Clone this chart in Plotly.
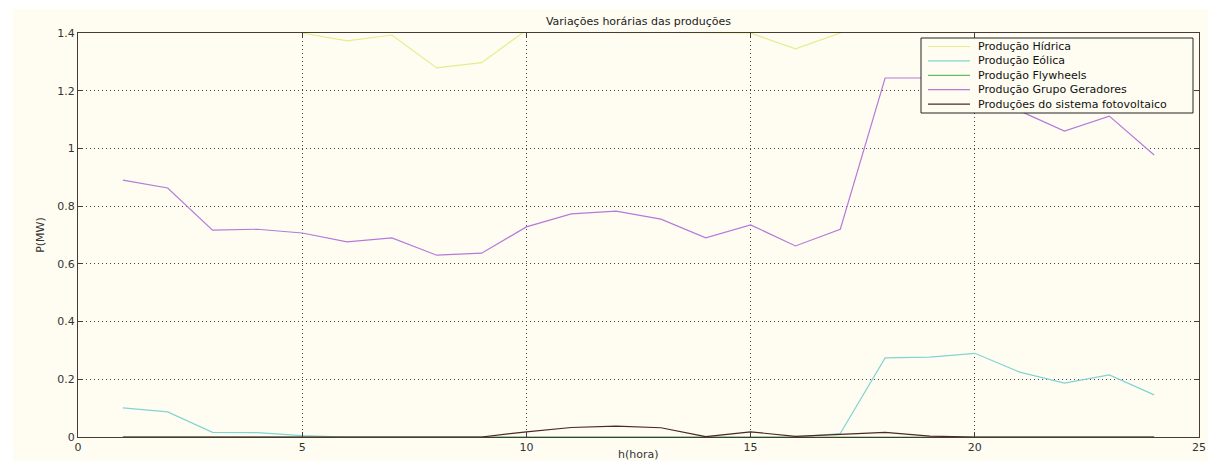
import plotly.graph_objects as go

# Hourly production by source (MW), hours 1..24
hours = list(range(1, 25))
hidrica = [1.62, 1.66, 1.58, 1.47, 1.40, 1.373, 1.393, 1.279, 1.297, 1.41, 1.45, 1.401,
           1.402, 1.401, 1.40, 1.345, 1.40, 1.52, 1.55, 1.58, 1.53, 1.50, 1.52, 1.48]
eolica = [0.101, 0.087, 0.016, 0.015, 0.005, 0.0, 0.0, 0.0, 0.0, 0.0, 0.0, 0.0,
          0.0, 0.0, 0.0, 0.0, 0.012, 0.274, 0.277, 0.290, 0.225, 0.187, 0.215, 0.146]
flywheels = [0.0] * 24
geradores = [0.890, 0.863, 0.717, 0.720, 0.707, 0.676, 0.690, 0.630, 0.637, 0.728, 0.773, 0.783,
             0.755, 0.690, 0.735, 0.662, 0.720, 1.244, 1.244, 1.240, 1.130, 1.060, 1.112, 0.977]
fotovoltaico = [0.0, 0.0, 0.0, 0.0, 0.0, 0.0, 0.0, 0.0, 0.0, 0.018, 0.033, 0.038,
                0.032, 0.001, 0.018, 0.002, 0.010, 0.016, 0.003, 0.0, 0.0, 0.0, 0.0, 0.0]

names = ["Produção Hídrica", "Produção Eólica", "Produção Flywheels",
         "Produção Grupo Geradores", "Produções do sistema fotovoltaico"]
values = [hidrica, eolica, flywheels, geradores, fotovoltaico]
colors = ["#e2ee8c", "#80d4d4", "#66bb66", "#b57ad8", "#4a2a22"]

x_ticks = [0, 5, 10, 15, 20, 25]
y_ticks = [0, 0.2, 0.4, 0.6, 0.8, 1.0, 1.2, 1.4]
y_labels = ["0", "0.2", "0.4", "0.6", "0.8", "1", "1.2", "1.4"]

cream = "#fffdf2"
axis_col = "#4a3a34"
font = "DejaVu Sans, sans-serif"

W, H = 1208, 461
L, R, T, B = 78, 9, 33, 24
pw, ph = W - L - R, H - T - B


def px_x(p):
    """Pixel column -> paper x."""
    return (p - L) / pw


def px_y(p):
    """Pixel row -> paper y."""
    return (H - B - p) / ph


fig = go.Figure()
for name, vals, col in zip(names, values, colors):
    fig.add_trace(go.Scatter(x=hours, y=vals, mode="lines", name=name,
                             line=dict(color=col, width=1.2), showlegend=False))

# Boxed legend in the upper-right corner of the axes
shapes = [
    dict(type="rect", xref="paper", yref="paper", layer="below",
         x0=px_x(13), x1=px_x(W), y0=px_y(H), y1=px_y(9),
         fillcolor=cream, line=dict(width=0)),
    dict(type="rect", xref="paper", yref="paper", layer="above",
         x0=px_x(921), x1=px_x(1193), y0=px_y(113), y1=px_y(38),
         fillcolor=cream, line=dict(color="#222222", width=1)),
]
annotations = []
row0, step = 46.5, 14.4
for i, (name, col) in enumerate(zip(names, colors)):
    yy = row0 + i * step
    shapes.append(dict(type="line", xref="paper", yref="paper", layer="above",
                       x0=px_x(928), x1=px_x(970), y0=px_y(yy), y1=px_y(yy),
                       line=dict(color=col, width=1.2)))
    annotations.append(dict(text=name, xref="paper", yref="paper", x=px_x(976),
                            y=px_y(yy), xanchor="left", yanchor="middle",
                            showarrow=False, font=dict(size=11, color="#111111")))

# x-axis caption near the bottom edge of the figure
annotations.append(dict(text="h(hora)", xref="paper", yref="paper", x=0.5,
                        y=px_y(454), xanchor="center", yanchor="middle",
                        showarrow=False, font=dict(size=11, color="#333333")))

fig.update_layout(
    width=W, height=H,
    margin=dict(l=L, r=R, t=T, b=B, autoexpand=False),
    paper_bgcolor="white", plot_bgcolor=cream,
    font=dict(family=font, size=11, color="#333333"),
    title=dict(text="Variações horárias das produções", x=0.5 * (L + W - R) / W,
               xanchor="center", y=1 - 21 / H, yanchor="middle",
               font=dict(size=11, color="#222222")),
    showlegend=False,
    shapes=shapes,
    annotations=annotations,
)

grid = dict(showgrid=True, gridcolor="#444444", griddash="1px,3px", gridwidth=1,
            zeroline=False, showline=True, linecolor=axis_col, linewidth=1.3,
            mirror="ticks", ticks="inside", ticklen=5, tickcolor=axis_col,
            automargin=False)

fig.update_xaxes(range=[0, 25], tickvals=x_ticks, ticklabelstandoff=0, **grid)
fig.update_yaxes(range=[0, 1.4], tickvals=y_ticks, ticktext=y_labels,
                 title=dict(text="P(MW)", standoff=10, font=dict(size=11)), **grid)

fig.write_html("out.html")
